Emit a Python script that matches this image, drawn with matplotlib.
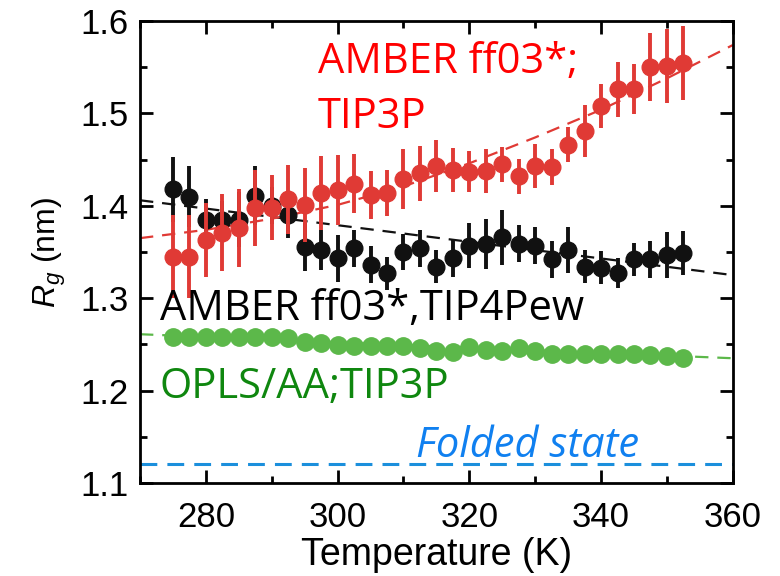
import numpy as np
import matplotlib
matplotlib.use('Agg')
import matplotlib.pyplot as plt
from matplotlib.ticker import MultipleLocator, FormatStrFormatter

plt.rcParams['mathtext.fontset'] = 'custom'
plt.rcParams['mathtext.it'] = 'Liberation Sans:italic'
plt.rcParams['mathtext.rm'] = 'Liberation Sans'

# temperatures (K), shared by the three simulated series
temp = np.arange(275, 353, 2.5)

# AMBER ff03*; TIP3P
rg_red = [1.345, 1.345, 1.363, 1.371, 1.376, 1.398, 1.398, 1.407, 1.401, 1.414,
          1.417, 1.424, 1.412, 1.414, 1.429, 1.435, 1.443, 1.439, 1.437, 1.438,
          1.445, 1.432, 1.443, 1.442, 1.466, 1.481, 1.508, 1.526, 1.526, 1.550,
          1.551, 1.555]
err_red = [0.045, 0.045, 0.040, 0.042, 0.042, 0.041, 0.035, 0.037, 0.040, 0.040,
           0.038, 0.032, 0.026, 0.025, 0.032, 0.030, 0.028, 0.024, 0.022, 0.024,
           0.019, 0.019, 0.024, 0.020, 0.019, 0.028, 0.024, 0.030, 0.027, 0.037,
           0.040, 0.040]

# AMBER ff03*, TIP4Pew
rg_black = [1.418, 1.410, 1.385, 1.385, 1.385, 1.411, 1.400, 1.390, 1.355, 1.352,
            1.343, 1.354, 1.336, 1.327, 1.350, 1.354, 1.334, 1.343, 1.357, 1.359,
            1.366, 1.359, 1.357, 1.342, 1.352, 1.334, 1.333, 1.327, 1.342, 1.342,
            1.347, 1.349]
err_black = [0.035, 0.033, 0.022, 0.020, 0.030, 0.032, 0.020, 0.025, 0.026, 0.022,
             0.025, 0.020, 0.020, 0.018, 0.020, 0.020, 0.018, 0.020, 0.024, 0.027,
             0.030, 0.020, 0.020, 0.020, 0.025, 0.018, 0.018, 0.016, 0.018, 0.020,
             0.025, 0.024]

# OPLS/AA; TIP3P
rg_green = [1.258, 1.258, 1.258, 1.258, 1.258, 1.258, 1.258, 1.257, 1.253, 1.251,
            1.249, 1.248, 1.248, 1.248, 1.248, 1.246, 1.243, 1.242, 1.2475, 1.244,
            1.243, 1.246, 1.243, 1.240, 1.240, 1.240, 1.240, 1.240, 1.240, 1.2385,
            1.237, 1.235]

# fitted trend lines
fit_t = [270, 280, 290, 300, 310, 320, 330, 340, 350, 360]
fit_red = [1.365, 1.374, 1.386, 1.401, 1.421, 1.446, 1.474, 1.504, 1.538, 1.574]
fit_black_t = [270, 360]
fit_black = [1.406, 1.325]
fit_green_t = [270, 360]
fit_green = [1.261, 1.235]
folded_rg = 1.12

red = '#e03a35'
green = '#5cb84a'

fig = plt.figure(figsize=(7.8, 5.76), dpi=100)
ax = fig.add_axes([0.1795, 0.1615, 0.760, 0.802])

ax.axhline(folded_rg, color='#1b8fdc', lw=2.2, dashes=(5.5, 3.3), zorder=1)
ax.plot(fit_green_t, fit_green, color=green, lw=1.6, dashes=(6, 4), zorder=1)
ax.plot(fit_black_t, fit_black, color='#111111', lw=1.6, dashes=(6, 4), zorder=1)
ax.plot(fit_t, fit_red, color=red, lw=1.6, dashes=(6, 4), zorder=1)

ax.errorbar(temp, rg_black, yerr=err_black, fmt='o', color='#111111', ms=12,
            elinewidth=2.8, capsize=0, zorder=2)
ax.errorbar(temp, rg_red, yerr=err_red, fmt='o', color=red, ms=12,
            elinewidth=2.8, capsize=0, zorder=3)
ax.plot(temp, rg_green, 'o', color=green, ms=12.5, zorder=3)

ax.set_xlim(270, 360)
ax.set_ylim(1.1, 1.6)
ax.set_xticks([280, 300, 320, 340, 360])
ax.xaxis.set_minor_locator(MultipleLocator(10))
ax.yaxis.set_major_locator(MultipleLocator(0.1))
ax.yaxis.set_minor_locator(MultipleLocator(0.05))
ax.yaxis.set_major_formatter(FormatStrFormatter('%.1f'))
ax.tick_params(which='both', direction='in', top=True, right=True, width=2)
ax.tick_params(which='major', length=9.5, labelsize=25)
ax.tick_params(which='minor', length=5)
ax.tick_params(axis='x', pad=13)
ax.tick_params(axis='y', pad=8)
for lab in ax.get_xticklabels() + ax.get_yticklabels():
    lab.set_family('Liberation Sans')
for s in ax.spines.values():
    s.set_linewidth(2)

ax.set_xlabel('Temperature (K)', fontsize=27, family='Liberation Sans', labelpad=2)
ax.set_ylabel(r'$R_g$ (nm)', fontsize=23, family='Liberation Sans', labelpad=9)

tf = 'Open Sans'
fs = 30
ax.text(0.300, 0.887, 'AMBER ff03*;', transform=ax.transAxes, color='red',
        fontsize=fs, family=tf, va='baseline')
ax.text(0.300, 0.768, 'TIP3P', transform=ax.transAxes, color='red',
        fontsize=fs, family=tf, va='baseline')
ax.text(0.033, 0.353, 'AMBER ff03*,TIP4Pew', transform=ax.transAxes, color='black',
        fontsize=fs, family=tf, va='baseline')
ax.text(0.033, 0.184, 'OPLS/AA;TIP3P', transform=ax.transAxes, color='#0f870f',
        fontsize=fs, family=tf, va='baseline')
ax.text(0.466, 0.056, 'Folded state', transform=ax.transAxes, color='#1080f0',
        fontsize=fs, family=tf, style='italic', va='baseline')

fig.savefig('out.png', dpi=100)
